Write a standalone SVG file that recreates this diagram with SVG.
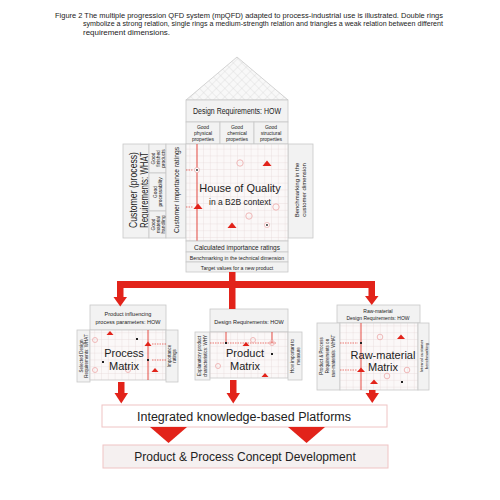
<svg xmlns="http://www.w3.org/2000/svg" width="500" height="500" viewBox="0 0 500 500">
<style>
text{font-family:"Liberation Sans",Arial,sans-serif;fill:#222}
.p{fill:#f2f2f2;stroke:#c9c9c9;stroke-width:0.8}
.g{fill:url(#grid);stroke:#c9c9c9;stroke-width:0.8}
.c{text-anchor:middle}
.rl{stroke:#e2231a;stroke-width:0.8;fill:none}
.rd{stroke:#e2231a;stroke-width:0.6;fill:none;stroke-dasharray:1.5 1}
.tri{fill:#e2231a}
.ring{fill:none;stroke:#f0b8b8;stroke-width:1}
.dot{fill:#222}
.red{fill:#e2231a}
</style>
<defs>
<pattern id="grid" width="6.8" height="6.8" patternUnits="userSpaceOnUse">
<rect width="6.8" height="6.8" fill="#fbf8f8"/>
<path d="M6.8 0V6.8H0" fill="none" stroke="#e2cfcf" stroke-width="0.6"/>
</pattern>
<pattern id="lat" width="6" height="6" patternUnits="userSpaceOnUse" patternTransform="rotate(45)">
<rect width="6" height="6" fill="#f8f8f8"/>
<path d="M6 0V6H0" fill="none" stroke="#cfcfcf" stroke-width="0.6"/>
</pattern>
<g id="dr"><circle r="2.6" fill="#fff" stroke="#e9a0a0" stroke-width="0.6"/><circle r="0.9" fill="#222"/></g>
</defs>
<rect width="500" height="500" fill="#fff"/>

<g id="caption">
<text x="55" y="17.5" font-size="7" textLength="388" lengthAdjust="spacingAndGlyphs">Figure 2 The multiple progression QFD system (mpQFD) adapted to process-industrial use is illustrated. Double rings</text>
<text x="83" y="26" font-size="7" textLength="360" lengthAdjust="spacingAndGlyphs">symbolize a strong relation, single rings a medium-strength relation and triangles a weak relation between different</text>
<text x="83" y="34.5" font-size="7" textLength="87" lengthAdjust="spacingAndGlyphs">requirement dimensions.</text>
</g>

<g id="roof">
<polygon points="186,100 237,57 288,100" fill="url(#lat)" stroke="#c9c9c9" stroke-width="0.8"/>
</g>

<g id="design-requirements">
<rect class="p" x="186" y="100" width="102" height="22"/>
<text class="c" x="237" y="114" font-size="8.5" textLength="88" lengthAdjust="spacingAndGlyphs">Design Requirements: HOW</text>
<rect class="p" x="186" y="122" width="34" height="22"/>
<rect class="p" x="220" y="122" width="34" height="22"/>
<rect class="p" x="254" y="122" width="34" height="22"/>
<g font-size="5" class="c">
<text x="203" y="129">Good</text><text x="203" y="135">physical</text><text x="203" y="141">properties</text>
<text x="237" y="129">Good</text><text x="237" y="135">chemical</text><text x="237" y="141">properties</text>
<text x="271" y="129">Good</text><text x="271" y="135">structural</text><text x="271" y="141">properties</text>
</g>
</g>

<g id="customer-requirements">
<rect class="p" x="123" y="144" width="26" height="94"/>
<text class="c" transform="translate(137,190) rotate(-90)" font-size="10" textLength="76" lengthAdjust="spacingAndGlyphs">Customer (process)</text>
<text class="c" transform="translate(147.5,190) rotate(-90)" font-size="10" textLength="76" lengthAdjust="spacingAndGlyphs">Requirements: WHAT</text>
<rect class="p" x="149" y="144" width="17" height="29"/>
<rect class="p" x="149" y="173" width="17" height="38"/>
<rect class="p" x="149" y="211" width="17" height="27"/>
<g font-size="4.8" class="c">
<text transform="translate(154.5,158.5) rotate(-90)">Good</text>
<text transform="translate(159.5,158.5) rotate(-90)">finished</text>
<text transform="translate(164.5,158.5) rotate(-90)">products</text>
<text transform="translate(157,192) rotate(-90)">Good</text>
<text transform="translate(162,192) rotate(-90)">processability</text>
<text transform="translate(154.5,224.5) rotate(-90)">Good</text>
<text transform="translate(159.5,224.5) rotate(-90)">material</text>
<text transform="translate(164.5,224.5) rotate(-90)">handling</text>
</g>
<rect class="p" x="166" y="144" width="20" height="94"/>
<text class="c" transform="translate(178.5,190) rotate(-90)" font-size="6.5" textLength="86" lengthAdjust="spacingAndGlyphs">Customer importance ratings</text>
</g>

<g id="benchmark-customer">
<rect class="p" x="288" y="144" width="25" height="94"/>
<text class="c" transform="translate(298.5,190) rotate(-90)" font-size="6">Benchmarking in the</text>
<text class="c" transform="translate(305.5,190) rotate(-90)" font-size="6">customer dimension</text>
</g>

<g id="house-of-quality">
<rect class="g" x="186" y="144" width="102" height="97"/>
<line class="rl" x1="197" y1="144" x2="197" y2="241"/>
<path class="rd" d="M186 170H193M186 207H193"/>
<use href="#dr" x="197" y="170"/>
<polygon class="tri" points="193.5,209 202.5,209 198,203.5"/>
<circle class="ring" cx="240" cy="163" r="3.2"/>
<polygon class="tri" points="262.5,166 271.5,166 267,160.5"/>
<circle class="ring" cx="276" cy="207" r="3.2"/>
<circle class="ring" cx="249" cy="216" r="3.2"/>
<polygon class="tri" points="227.5,228 236.5,228 232,222.5"/>
<use href="#dr" x="267" y="225"/>
<text class="c" x="240" y="192" font-size="11">House of Quality</text>
<text class="c" x="240" y="205" font-size="8.5">in a B2B context</text>
</g>

<g id="technical-rows">
<rect class="p" x="186" y="241" width="102" height="11"/>
<text class="c" x="237" y="249.5" font-size="6.5">Calculated importance ratings</text>
<rect class="p" x="186" y="252" width="102" height="10"/>
<text class="c" x="237" y="259.5" font-size="5.2">Benchmarking in the technical dimension</text>
<rect class="p" x="186" y="262" width="102" height="10"/>
<text class="c" x="237" y="269.5" font-size="5.2">Target values for a new product</text>
</g>

<g id="process-matrix">
<rect class="p" x="90" y="305" width="76" height="25"/>
<text class="c" x="128" y="316" font-size="5.5">Product influencing</text>
<text class="c" x="128" y="324" font-size="5.5">process parameters: HOW</text>
<rect class="p" x="77" y="330" width="13" height="52"/>
<text class="c" transform="translate(82.5,356) rotate(-90)" font-size="4.5">Selected Design</text>
<text class="c" transform="translate(87.5,356) rotate(-90)" font-size="4.5">Requirements: WHAT</text>
<rect class="g" x="90" y="330" width="76" height="50"/>
<rect class="p" x="166" y="330" width="12" height="52"/>
<text class="c" transform="translate(171,356) rotate(-90)" font-size="4.5">Importance</text>
<text class="c" transform="translate(176,356) rotate(-90)" font-size="4.5">ratings</text>
<line class="rl" x1="148" y1="330" x2="148" y2="380"/>
<path class="rd" d="M166 344H151M166 360H151"/>
<circle class="ring" cx="95" cy="340" r="2.5"/>
<circle class="ring" cx="95" cy="370" r="2.5"/>
<polygon class="tri" points="106.5,335 113.5,335 110,331"/>
<rect class="dot" x="136" y="338" width="2" height="2"/>
<polygon class="tri" points="144.5,346 151.5,346 148,341.5"/>
<rect class="dot" x="102" y="361" width="2" height="2"/>
<rect class="dot" x="147" y="359" width="2" height="2"/>
<circle class="ring" cx="128" cy="370" r="2.5"/>
<polygon class="tri" points="151.5,372 158.5,372 155,368"/>
<text class="c" x="124" y="357" font-size="11">Process</text>
<text class="c" x="124" y="370" font-size="11">Matrix</text>
</g>

<g id="product-matrix">
<rect class="p" x="210" y="309" width="78" height="23"/>
<text class="c" x="249" y="323.5" font-size="5.5">Design Requirements: HOW</text>
<rect class="p" x="195" y="332" width="15" height="48"/>
<text class="c" transform="translate(201,356) rotate(-90)" font-size="4.5">Explanatory product</text>
<text class="c" transform="translate(207,356) rotate(-90)" font-size="4.5">characteristics: WHY</text>
<rect class="g" x="210" y="332" width="78" height="46"/>
<rect class="p" x="288" y="332" width="14" height="48"/>
<text class="c" transform="translate(294,356) rotate(-90)" font-size="4.5">How important to</text>
<text class="c" transform="translate(300,356) rotate(-90)" font-size="4.5">measure</text>
<path class="rl" d="M226 332V343M272 332V343"/>
<path class="rd" d="M210 343H276"/>
<rect class="dot" x="225" y="342" width="2" height="2"/>
<polygon class="tri" points="242.5,346 249.5,346 246,342"/>
<circle class="ring" cx="253" cy="340" r="2.5"/>
<circle class="ring" cx="272" cy="343" r="2.5"/>
<rect class="dot" x="271" y="353" width="2" height="2"/>
<circle class="ring" cx="218" cy="366" r="2.5"/>
<polygon class="tri" points="261.5,377 268.5,377 265,373"/>
<text class="c" x="245" y="357" font-size="11">Product</text>
<text class="c" x="245" y="370" font-size="11">Matrix</text>
</g>

<g id="raw-material-matrix">
<rect class="p" x="337" y="305" width="83" height="18"/>
<text class="c" x="378" y="313" font-size="5">Raw-material</text>
<text class="c" x="378" y="320" font-size="5">Design Requirements: HOW</text>
<rect class="p" x="317" y="323" width="23" height="67"/>
<text class="c" transform="translate(322.5,356) rotate(-90)" font-size="4.5">Product &amp; Process</text>
<text class="c" transform="translate(328.5,356) rotate(-90)" font-size="4.5">Requirements on</text>
<text class="c" transform="translate(334.5,356) rotate(-90)" font-size="4.5">raw-materials: WHAT</text>
<rect class="g" x="340" y="323" width="78" height="67"/>
<rect class="p" x="418" y="323" width="11" height="67"/>
<text class="c" transform="translate(422.5,356) rotate(-90)" font-size="4.2">Internal customer</text>
<text class="c" transform="translate(427.5,356) rotate(-90)" font-size="4.2">benchmarking</text>
<line class="rl" x1="361" y1="323" x2="361" y2="390"/>
<path class="rd" d="M340 343H358M340 370H357"/>
<rect class="dot" x="360" y="342" width="2" height="2"/>
<circle class="ring" cx="380" cy="337" r="2.8"/>
<polygon class="tri" points="397,339 405,339 401,334.5"/>
<polygon class="tri" points="357,372 365,372 361,367.5"/>
<circle class="ring" cx="407" cy="370" r="2.8"/>
<circle class="ring" cx="387" cy="376" r="2.8"/>
<polygon class="tri" points="370,384 378,384 374,379.5"/>
<rect class="dot" x="401" y="381" width="2" height="2"/>
<text class="c" x="383" y="359" font-size="11">Raw-material</text>
<text class="c" x="383" y="371" font-size="11">Matrix</text>
</g>

<g id="platforms">
<rect x="102" y="405" width="285" height="22" fill="#fff" stroke="#efc4c4" stroke-width="1"/>
<text class="c" x="244" y="421" font-size="12.5">Integrated knowledge-based Platforms</text>
</g>

<g id="concept-development">
<rect x="103" y="445" width="285" height="23" fill="#f5f0f0" stroke="#efc4c4" stroke-width="1"/>
<text class="c" x="245" y="461" font-size="12">Product &amp; Process Concept Development</text>
</g>

<g id="connectors">
<rect class="red" x="229" y="272" width="6.5" height="13"/>
<rect class="red" x="117" y="281" width="258" height="7"/>
<rect class="red" x="117" y="281" width="6.5" height="17"/>
<polygon class="red" points="113.5,297 127,297 120.25,306.5"/>
<rect class="red" x="229" y="281" width="6.5" height="28"/>
<rect class="red" x="368.5" y="281" width="6.5" height="16"/>
<polygon class="red" points="365,296 378.5,296 371.75,305"/>
<rect class="red" x="118" y="382" width="6.5" height="12"/>
<polygon class="red" points="114.5,393 128,393 121.25,403.5"/>
<rect class="red" x="230" y="380" width="6.5" height="14"/>
<polygon class="red" points="226.5,393 240,393 233.25,403.5"/>
<rect class="red" x="369" y="390" width="6.5" height="4"/>
<polygon class="red" points="365.5,393 379,393 372.25,403"/>
<polygon class="red" points="150,427 187,427 168.5,443"/>
<polygon class="red" points="288,427 325,427 306.5,443"/>
</g>
</svg>
